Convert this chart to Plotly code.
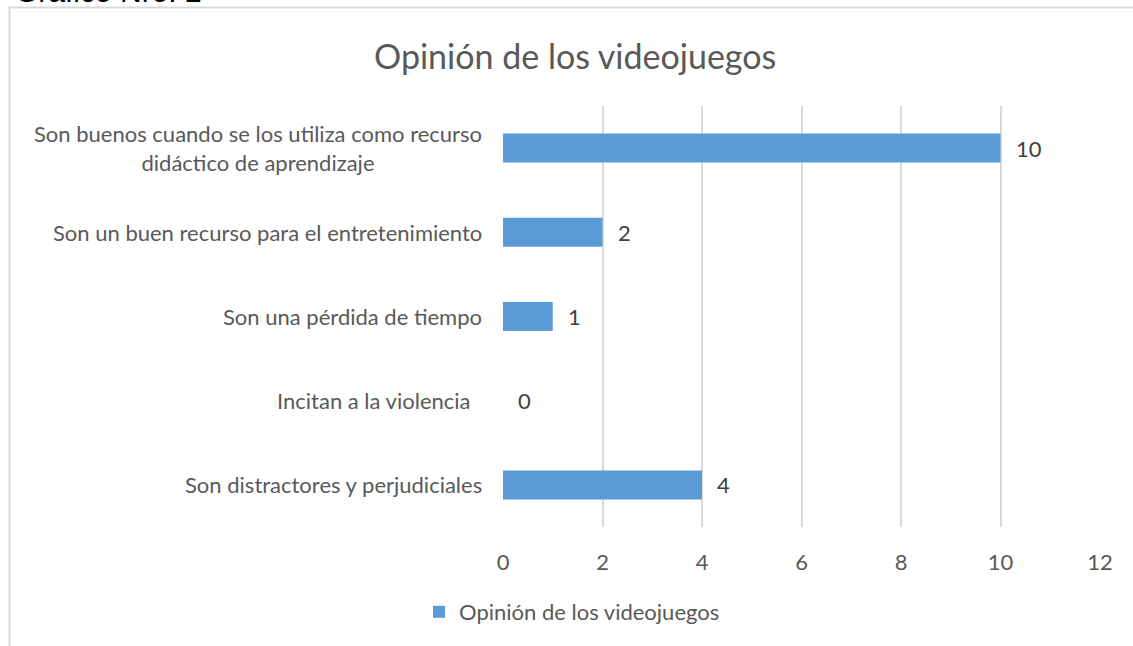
import plotly.graph_objects as go

categories = [
    "Son distractores y perjudiciales",
    "Incitan a la violencia&nbsp;&nbsp;",
    "Son una pérdida de tiempo",
    "Son un buen recurso para el entretenimiento",
    "Son buenos cuando se los utiliza como recurso<br>didáctico de aprendizaje",
]
values = [4, 0, 1, 2, 10]
series_name = "Opinión de los videojuegos"
x_ticks = [0, 2, 4, 6, 8, 10, 12]

W, H = 1133, 646
L, R, T, B = 503, 33, 106, 119
plot_w = W - L - R
plot_h = H - T - B

def px2paper_x(px):
    return (px - L) / plot_w

def px2paper_y(py):
    return (H - B - py) / plot_h

FONT = "Lato"
FS = 22
BAR = "#5b9bd5"
GRID = "#d9d9d9"

fig = go.Figure()
fig.add_trace(go.Bar(
    y=list(range(len(categories))), x=values, orientation="h",
    marker=dict(color=BAR, line=dict(width=0)),
    name=series_name, showlegend=True,
))

annotations = []
for i, (c, v) in enumerate(zip(categories, values)):
    annotations.append(dict(
        x=0, y=i, xref="x", yref="y", text=c, showarrow=False,
        xanchor="right", yanchor="middle", align="center", xshift=-19,
        font=dict(family=FONT, size=FS, color="#595959"),
    ))
    annotations.append(dict(
        x=v, y=i, xref="x", yref="y", text=str(v), showarrow=False,
        xanchor="left", yanchor="middle", xshift=13,
        font=dict(family=FONT, size=FS, color="#404040"),
    ))

annotations.append(dict(
    x=px2paper_x(575), y=px2paper_y(55), xref="paper", yref="paper",
    text=series_name, showarrow=False, xanchor="center", yanchor="middle",
    font=dict(family=FONT, size=34, color="#595959"),
))
annotations.append(dict(
    x=px2paper_x(13), y=px2paper_y(10), xref="paper", yref="paper",
    text="Gráfico Nro. 2", showarrow=False, xanchor="left", yanchor="bottom",
    font=dict(family="Liberation Sans", size=30, color="#000000"),
))

shapes = [dict(
    type="rect", xref="paper", yref="paper",
    x0=px2paper_x(9.5), x1=px2paper_x(1150), y0=px2paper_y(700), y1=px2paper_y(7.5),
    line=dict(color=GRID, width=2), fillcolor="rgba(0,0,0,0)", layer="below",
)]

fig.update_layout(
    width=W, height=H,
    margin=dict(l=L, r=R, t=T, b=B, pad=0),
    paper_bgcolor="white", plot_bgcolor="white",
    bargap=0.655,
    showlegend=True,
    legend=dict(
        x=px2paper_x(572), y=px2paper_y(612), xanchor="center", yanchor="middle",
        orientation="h", font=dict(family=FONT, size=FS, color="#595959"),
        itemwidth=30, bgcolor="rgba(0,0,0,0)",
    ),
    annotations=annotations,
    shapes=shapes,
    xaxis=dict(
        range=[0, 12], tickvals=x_ticks, ticktext=[str(t) for t in x_ticks],
        showgrid=True, gridcolor=GRID, gridwidth=1.5, zeroline=False,
        showline=False, ticks="outside", ticklen=16, tickcolor="rgba(0,0,0,0)",
        tickfont=dict(family=FONT, size=FS, color="#595959"),
    ),
    yaxis=dict(
        range=[-0.5, len(categories) - 0.5], showticklabels=False,
        showgrid=False, zeroline=False, showline=False,
    ),
)

fig.write_html("out.html")
